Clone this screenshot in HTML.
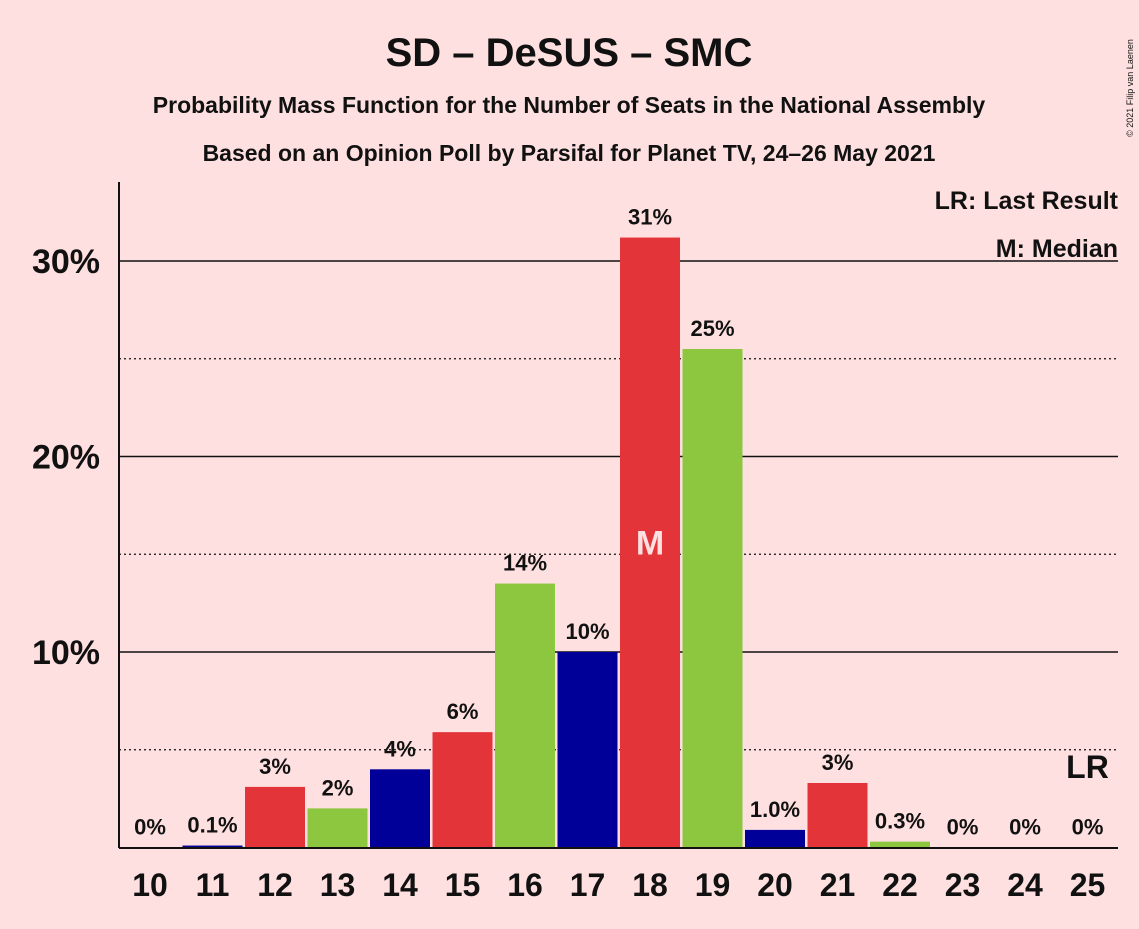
<!DOCTYPE html>
<html><head><meta charset="utf-8"><style>
body{margin:0;background:#ffe0e0;font-family:"Liberation Sans",sans-serif;}
svg text{font-family:"Liberation Sans",sans-serif;font-weight:bold;fill:#111;}
</style></head><body>
<svg id="chart" width="1139" height="924" xmlns="http://www.w3.org/2000/svg">
<rect width="1139" height="924" fill="#ffe0e0"/>
<text x="569" y="66" font-size="40" text-anchor="middle">SD – DeSUS – SMC</text>
<text x="569" y="113" font-size="23" text-anchor="middle">Probability Mass Function for the Number of Seats in the National Assembly</text>
<text x="569" y="161" font-size="23" text-anchor="middle">Based on an Opinion Poll by Parsifal for Planet TV, 24–26 May 2021</text>
<text x="1133" y="88" font-size="9" font-weight="normal" transform="rotate(-90 1133 88)" text-anchor="middle" style="font-weight:normal">© 2021 Filip van Laenen</text>
<g id="grid"></g><g id="bars"></g><g id="labels"></g>
<line x1="119" y1="182" x2="119" y2="848" stroke="#111" stroke-width="2"/>
<line x1="119" y1="848" x2="1118" y2="848" stroke="#111" stroke-width="2"/>
<text x="1118" y="209" font-size="25" text-anchor="end">LR: Last Result</text>
<text x="1118" y="257" font-size="25" text-anchor="end">M: Median</text>
</svg>
<script>
const seats=[10,11,12,13,14,15,16,17,18,19,20,21,22,23,24,25];
const probs=[0,0.1,3.1,2.0,4.0,5.9,13.5,10.0,31.2,25.5,0.9,3.3,0.3,0,0,0];
const valueLabels=["0%","0.1%","3%","2%","4%","6%","14%","10%","31%","25%","1.0%","3%","0.3%","0%","0%","0%"];
const yTicks=[10,20,30];
const yMinor=[5,15,25];
const medianSeat=18, lastResultSeat=25;
const colors=["#000099","#e3343a","#8dc63f"];
const NS="http://www.w3.org/2000/svg";
const y=v=>847.5-v*19.55;
const x=s=>150+(s-10)*62.5;
function mk(t,a,p){const e=document.createElementNS(NS,t);for(const k in a)e.setAttribute(k,a[k]);document.getElementById(p).appendChild(e);return e;}
yMinor.forEach(v=>{const l=mk('line',{x1:119,x2:1118,y1:y(v),y2:y(v),stroke:'#111','stroke-width':1.3,'stroke-dasharray':'2,3'},'grid');

});
yTicks.forEach(v=>{const l=mk('line',{x1:119,x2:1118,y1:y(v),y2:y(v),stroke:'#111','stroke-width':1.6},'grid');


const t=mk('text',{x:100,y:y(v)+12,'font-size':34,'text-anchor':'end'},'grid');t.textContent=v+'%';

});
seats.forEach((s,i)=>{
 const p=probs[i];
 if(p>0){const r=mk('rect',{x:x(s)-30,y:y(p),width:60,height:847.5-y(p),fill:colors[(s-11+300)%3]},'bars');
 
 }
 const t=mk('text',{x:x(s),y:y(p)-13,'font-size':22,'text-anchor':'middle'},'labels');t.textContent=valueLabels[i];
 
 
 const xt=mk('text',{x:x(s),y:896,'font-size':32,'text-anchor':'middle'},'labels');xt.textContent=s;
 
 
 if(s===medianSeat){const m=mk('text',{x:x(s),y:y(p/2)+12,'font-size':34,'text-anchor':'middle',style:'fill:#ffe0e0'},'labels');m.textContent='M';
 
 }
 if(s===lastResultSeat){const m=mk('text',{x:x(s),y:778,'font-size':32,'text-anchor':'middle'},'labels');m.textContent='LR';
 
 }
});
</script>
</body></html>
